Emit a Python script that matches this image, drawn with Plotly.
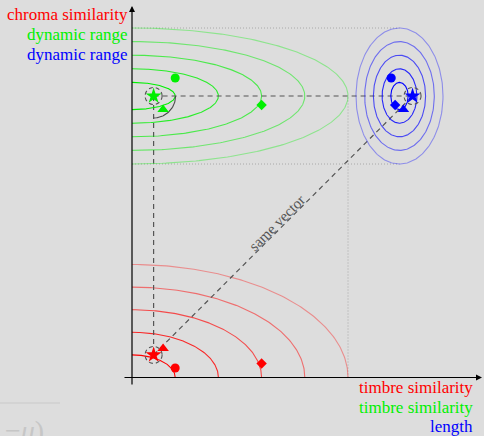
import numpy as np
import plotly.graph_objects as go

# ---------------- data ----------------
marker_names = ["star", "triangle", "circle", "diamond"]
timbre = [0.5, 0.72, 1.0, 3.0]          # x of red & green plots
chroma = [1.0, 1.28, 0.42, 0.62]        # y of red plot
dynamic = [0.0, -1.0, 1.32, -0.66]      # y of green & blue plots
length = [1.5, 0.45, -0.95, -0.5]       # x of blue plot
contour_levels = [1, 2, 3, 4, 5]
contour_opacity = [1.0, 0.82, 0.66, 0.5, 0.36]

red_labels = ["chroma similarity", "timbre similarity"]
green_labels = ["dynamic range", "timbre similarity"]
blue_labels = ["dynamic range", "length"]
vector_label = "same vector"

# ---------------- frame (pixel mapping of each axis) ----------------
W, H = 484, 436
TX0, TXS = 132.0, 43.2     # timbre axis origin px, px per unit
CY0, CYS = 377.5, 22.6     # chroma axis origin px (from top), px per unit
DY0, DYS = 96.0, 13.6      # dynamic range axis origin px, px per unit
LX0, LXS = 399.5, 8.7      # length axis origin px, px per unit

def tpx(v): return TX0 + v * TXS
def px_t(p): return (p - TX0) / TXS
def lpx(v): return LX0 + v * LXS
def cpx(v): return CY0 - v * CYS
def px_c(p): return (CY0 - p) / CYS
def dpx(v): return DY0 - v * DYS
def px_d(p): return (DY0 - p) / DYS

RED, GREEN, BLUE = "255,0,0", "0,240,0", "0,0,255"
DASH_COL = "#555555"
DOT_COL = "#a8a8a8"
symbols = {"star": "star", "triangle": "triangle-up", "circle": "circle", "diamond": "diamond"}
sizes = {"star": 12, "triangle": 10, "circle": 9, "diamond": 8}

fig = go.Figure()

# dotted guide lines
fig.add_trace(go.Scatter(x=[5, 5], y=[0, px_c(dpx(0))], mode="lines", xaxis="x", yaxis="y",
                         line=dict(color=DOT_COL, width=1, dash="1px,2px"), hoverinfo="skip"))
for lev in [5, -5]:
    fig.add_trace(go.Scatter(x=[0, px_t(lpx(0))], y=[lev, lev], mode="lines", xaxis="x", yaxis="y2",
                             line=dict(color=DOT_COL, width=1, dash="1px,2px"), hoverinfo="skip"))

# red quarter contours
t = np.linspace(0, np.pi / 2, 120)
for r, op in zip(contour_levels, contour_opacity):
    fig.add_trace(go.Scatter(x=r * np.cos(t), y=r * np.sin(t), mode="lines", xaxis="x", yaxis="y",
                             line=dict(color=f"rgba({RED},{op})", width=1.1), hoverinfo="skip"))
# green half contours
t2 = np.linspace(-np.pi / 2, np.pi / 2, 200)
for r, op in zip(contour_levels, contour_opacity):
    fig.add_trace(go.Scatter(x=r * np.cos(t2), y=r * np.sin(t2), mode="lines", xaxis="x", yaxis="y2",
                             line=dict(color=f"rgba({GREEN},{op})", width=1.1), hoverinfo="skip"))
# blue full contours
t3 = np.linspace(0, 2 * np.pi, 240)
for r, op in zip(contour_levels, contour_opacity):
    fig.add_trace(go.Scatter(x=r * np.cos(t3), y=r * np.sin(t3), mode="lines", xaxis="x2", yaxis="y2",
                             line=dict(color=f"rgba({BLUE},{op})", width=1.1), hoverinfo="skip"))

dash = dict(color=DASH_COL, width=1.2, dash="5px,4px")
# horizontal dashed: green star -> blue star
fig.add_trace(go.Scatter(x=[timbre[0], px_t(lpx(length[0]))], y=[dynamic[0], dynamic[0]],
                         mode="lines", xaxis="x", yaxis="y2", line=dash, hoverinfo="skip"))
# vertical dashed: green star -> red star
fig.add_trace(go.Scatter(x=[timbre[0], timbre[0]], y=[px_c(dpx(dynamic[0])), chroma[0]],
                         mode="lines", xaxis="x", yaxis="y", line=dash, hoverinfo="skip"))
# diagonal dashed: red star -> blue star
fig.add_trace(go.Scatter(x=[timbre[0], px_t(lpx(length[0]))], y=[chroma[0], px_c(dpx(dynamic[0]))],
                         mode="lines", xaxis="x", yaxis="y", line=dash, hoverinfo="skip"))

# angle arc at green star
ta = np.linspace(0, np.pi / 2, 60)
fig.add_trace(go.Scatter(x=timbre[0] + 22 * np.cos(ta) / TXS, y=dynamic[0] - 22 * np.sin(ta) / DYS,
                         mode="lines", xaxis="x", yaxis="y2",
                         line=dict(color="#4a4a4a", width=1.1), hoverinfo="skip"))

# markers
for i, nm in enumerate(marker_names):
    mk = dict(symbol=symbols[nm], size=sizes[nm], line=dict(width=0))
    fig.add_trace(go.Scatter(x=[timbre[i]], y=[chroma[i]], mode="markers", xaxis="x", yaxis="y",
                             marker=dict(color=f"rgb({RED})", **mk), hoverinfo="skip"))
    fig.add_trace(go.Scatter(x=[timbre[i]], y=[dynamic[i]], mode="markers", xaxis="x", yaxis="y2",
                             marker=dict(color=f"rgb({GREEN})", **mk), hoverinfo="skip"))
    fig.add_trace(go.Scatter(x=[length[i]], y=[dynamic[i]], mode="markers", xaxis="x2", yaxis="y2",
                             marker=dict(color=f"rgb({BLUE})", **mk), hoverinfo="skip"))

# dashed circles around stars
shapes = []
for xr, yr, xv, yv in [("x", "y", timbre[0], chroma[0]), ("x", "y2", timbre[0], dynamic[0]),
                       ("x2", "y2", length[0], dynamic[0])]:
    shapes.append(dict(type="circle", xref=xr, yref=yr, xsizemode="pixel", ysizemode="pixel",
                       xanchor=xv, yanchor=yv, x0=-8.5, x1=8.5, y0=-8.5, y1=8.5,
                       line=dict(color=DASH_COL, width=1.1, dash="4px,3px")))
# faint background fragment line
shapes.append(dict(type="line", xref="paper", yref="paper", x0=0, x1=60 / W, y0=1 - 403 / H, y1=1 - 403 / H,
                   line=dict(color="#cacaca", width=1.2)))

SERIF = "'Liberation Serif', 'DejaVu Serif', 'Times New Roman', serif"
ann = []
# axes arrows
ann.append(dict(xref="x", yref="y", axref="x", ayref="y", x=px_t(482), y=0, ax=px_t(123), ay=0,
                showarrow=True, arrowhead=2, arrowsize=1, arrowwidth=1.2, arrowcolor="black", text=""))
ann.append(dict(xref="x", yref="y", axref="x", ayref="y", x=0, y=px_c(6), ax=0, ay=px_c(386),
                showarrow=True, arrowhead=2, arrowsize=1, arrowwidth=1.2, arrowcolor="black", text=""))

def lab(text, color, xpx, ypx, anchor="right"):
    ann.append(dict(xref="paper", yref="paper", x=xpx / W, y=1 - ypx / H, text=text, showarrow=False,
                    xanchor=anchor, yanchor="middle", borderpad=0,
                    font=dict(family=SERIF, size=17, color=color)))

lab(red_labels[0], f"rgb({RED})", 129, 15)
lab(green_labels[0], f"rgb({GREEN})", 129, 34.5)
lab(blue_labels[0], f"rgb({BLUE})", 129, 54)
lab(red_labels[1], f"rgb({RED})", 474, 387)
lab(green_labels[1], f"rgb({GREEN})", 474, 407)
lab(blue_labels[1], f"rgb({BLUE})", 474, 426)

ann.append(dict(xref="x", yref="y", x=px_t(277), y=px_c(223), text=vector_label, showarrow=False,
                textangle=-45, xanchor="center", yanchor="middle",
                font=dict(family=SERIF, size=15, color="#555555")))
# faint fragment text at bottom left
ann.append(dict(xref="paper", yref="paper", x=4 / W, y=1 - 414 / H, text="−<i>μ</i>)", showarrow=False,
                xanchor="left", yanchor="top", borderpad=0,
                font=dict(family=SERIF, size=28, color="#c6c6c6")))

ax_common = dict(visible=False, showgrid=False, zeroline=False, fixedrange=True)
fig.update_layout(
    width=W, height=H, margin=dict(l=0, r=0, t=0, b=0),
    paper_bgcolor="#dddddd", plot_bgcolor="#dddddd", showlegend=False,
    xaxis=dict(range=[px_t(0), px_t(W)], domain=[0, 1], **ax_common),
    xaxis2=dict(range=[(0 - LX0) / LXS, (W - LX0) / LXS], overlaying="x", anchor="y", **ax_common),
    yaxis=dict(range=[px_c(H), px_c(0)], domain=[0, 1], **ax_common),
    yaxis2=dict(range=[px_d(H), px_d(0)], overlaying="y", anchor="x", **ax_common),
    shapes=shapes, annotations=ann,
)
fig.write_html("out.html")
